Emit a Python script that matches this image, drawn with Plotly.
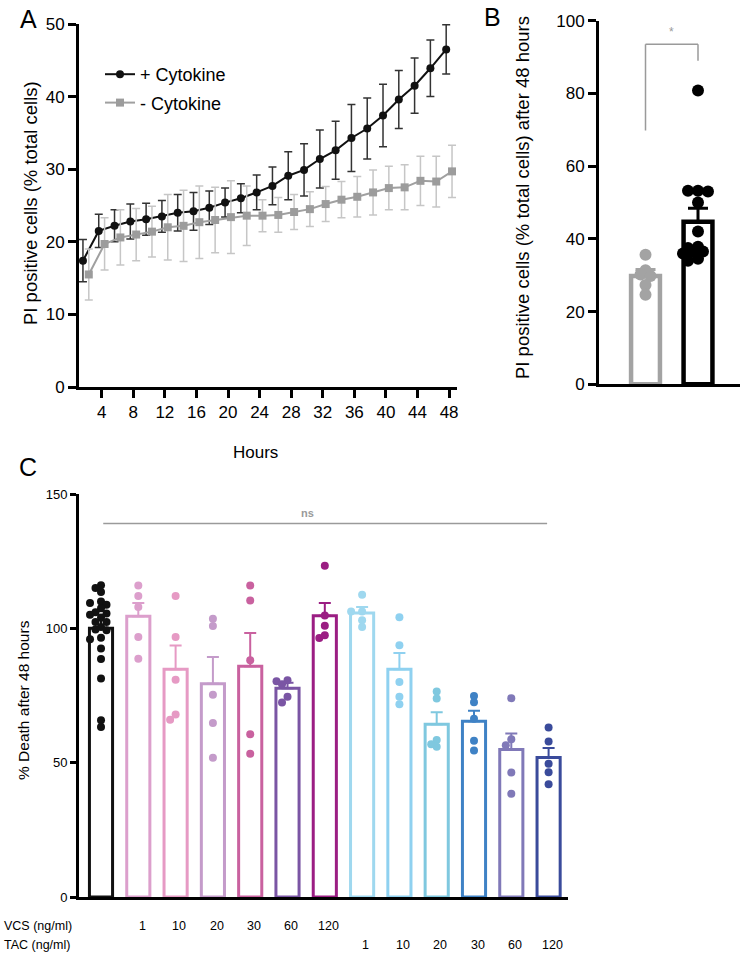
import plotly.graph_objects as go

W, H = 750, 954

# ---------------- Panel A data ----------------
hours = list(range(2, 50, 2))
plus_mean = [17.4, 21.5, 22.2, 22.8, 23.1, 23.5, 24.0, 24.2, 24.7, 25.4, 26.0, 26.8,
             27.7, 29.1, 29.9, 31.4, 32.6, 34.3, 35.6, 37.4, 39.6, 41.5, 43.9, 46.5]
plus_sem = [2.9, 2.3, 2.2, 2.4, 2.2, 2.2, 2.5, 2.6, 2.3, 2.0, 2.0, 2.4,
            2.6, 3.3, 3.6, 4.0, 4.0, 4.6, 4.2, 4.3, 4.0, 3.8, 3.9, 3.4]
minus_mean = [15.5, 19.7, 20.6, 21.0, 21.4, 22.0, 22.2, 22.7, 23.0, 23.4, 23.6, 23.6,
              23.7, 24.1, 24.5, 25.2, 25.8, 26.2, 26.8, 27.4, 27.5, 28.4, 28.3, 29.7]
minus_sem = [3.5, 3.6, 3.8, 3.6, 3.5, 4.5, 4.9, 5.0, 4.5, 5.0, 4.1, 2.2,
             2.4, 2.4, 2.4, 2.4, 2.5, 2.8, 3.1, 3.0, 3.1, 3.4, 3.5, 3.6]
a_xticks = list(range(4, 52, 4))
a_yticks = [0, 10, 20, 30, 40, 50]

# ---------------- Panel B data ----------------
b_groups = ["- Cytokine", "+ Cytokine"]
b_minus_pts = [35.6, 31.4, 30.2, 29.8, 27.3, 24.6]
b_plus_pts = [80.8, 53.2, 53.2, 53.0, 50.0, 42.0, 37.8, 37.5, 36.5, 36.5, 36.0, 34.5, 34.0]
b_mean = [29.8, 44.7]
b_sem = [1.8, 3.7]
b_yticks = [0, 20, 40, 60, 80, 100]

# ---------------- Panel C data ----------------
c_vcs_labels = ["", "1", "10", "20", "30", "60", "120", "", "", "", "", "", ""]
c_tac_labels = ["", "", "", "", "", "", "", "1", "10", "20", "30", "60", "120"]
c_mean = [100.0, 104.5, 84.8, 79.4, 85.9, 77.7, 104.7, 105.7, 84.8, 64.3, 65.4, 54.9, 51.9]
c_sem = [3.0, 4.9, 8.8, 9.9, 12.4, 2.0, 4.7, 2.2, 6.0, 4.5, 3.9, 6.0, 3.6]
c_points = [
    [116, 115, 113.5, 110, 109.4, 108.8, 107.5, 106, 105.5, 105.1, 104, 102.4, 102.4,
     100.5, 99.6, 99.3, 96.5, 95.9, 92.5, 88.6, 81.3, 65.8, 63.3],
    [115.9, 112.0, 107.9, 96.8, 88.7],
    [112.0, 96.8, 80.9, 66.0, 67.9],
    [103.6, 100.9, 75.3, 64.8, 51.8],
    [115.9, 110.4, 88.1, 60.6, 53.3],
    [80.3, 80.7, 79.2, 72.4, 74.5],
    [123.3, 104.8, 101.0, 96.4, 97.4],
    [112.5, 106.3, 106.3, 103.0, 100.5],
    [104.1, 93.7, 80.0, 71.7, 74.5],
    [76.5, 73.9, 58.4, 55.9, 56.9],
    [72.5, 74.8, 66.3, 58.2, 54.5],
    [74.0, 58.7, 56.5, 46.3, 38.4],
    [63.1, 57.9, 49.6, 46.4, 42.0],
]
c_yticks = [0, 50, 100, 150]

# ---------------- styles ----------------
c_colors = ["#111111", "#dc9fcc", "#e69ac4", "#c49bca", "#c9619f", "#7a55a4", "#9b1e83",
            "#9fd8ef", "#8fd1f0", "#7fc8df", "#3f82c5", "#8079b8", "#3a4b9b"]
FONT = "Arial, Liberation Sans, Helvetica, sans-serif"
GRAY = "#a3a3a3"

# pixel layout helpers
def px(x):
    return x / W

def py(y):
    return 1 - y / H

A_X = (79, 457); A_Y = (387, 24)
B_X = (599, 740); B_Y = (384.3, 20.7)
C_X = (79, 568); C_Y = (897, 494)

A_XR = [1.13, 49.0]
B_XR = [-0.886, 1.8]
C_XR = [-0.59, 12.52]


def swarm(vals, ppu_y, ppu_x, dia, step):
    placed = []
    res = [0.0] * len(vals)
    order = sorted(range(len(vals)), key=lambda i: -vals[i])
    cands = [0.0]
    for k in range(1, 12):
        cands += [-k * step, k * step]
    for i in order:
        y = vals[i] * ppu_y
        chosen = cands[-1]
        for c in cands:
            if all((c - qx) ** 2 + (y - qy) ** 2 >= dia ** 2 for qx, qy in placed):
                chosen = c
                break
        placed.append((chosen, y))
        res[i] = chosen / ppu_x
    return res


fig = go.Figure()

# ---------------- Panel A traces ----------------
dodge = 0.37
fig.add_trace(go.Scatter(
    x=[h - dodge for h in hours], y=plus_mean, name="+ Cytokine", legendgroup="p",
    mode="lines+markers", line=dict(color="#111111", width=2),
    marker=dict(symbol="circle", size=8, color="#111111"),
    error_y=dict(type="data", array=plus_sem, color="#333333", thickness=1.5, width=4),
    xaxis="x", yaxis="y", cliponaxis=False))
fig.add_trace(go.Scatter(
    x=[h + dodge for h in hours], y=minus_mean, name="- Cytokine", legendgroup="m",
    mode="lines+markers", line=dict(color="#a0a0a0", width=2),
    marker=dict(symbol="square", size=8, color="#9c9c9c"),
    error_y=dict(type="data", array=minus_sem, color="#c6c6c6", thickness=1.5, width=4),
    xaxis="x", yaxis="y", cliponaxis=False))

# ---------------- Panel B traces ----------------
b_ppu_y = (B_Y[0] - B_Y[1]) / 100.0
b_ppu_x = (B_X[1] - B_X[0]) / (B_XR[1] - B_XR[0])
b_cols = [GRAY, "#000000"]
for i, (m, s, col) in enumerate(zip(b_mean, b_sem, b_cols)):
    fig.add_trace(go.Bar(
        x=[i], y=[m], width=0.55, marker=dict(color="white", line=dict(color=col, width=4.5)),
        error_y=dict(type="data", symmetric=False, array=[s], arrayminus=[0], color=col,
                     thickness=3, width=10),
        xaxis="x2", yaxis="y2", showlegend=False, hoverinfo="skip"))
for i, (pts, col) in enumerate(zip([b_minus_pts, b_plus_pts], b_cols)):
    offs = swarm(pts, b_ppu_y, b_ppu_x, 6, 5)
    fig.add_trace(go.Scatter(
        x=[i + o for o in offs], y=pts, mode="markers",
        marker=dict(size=12, color=col), xaxis="x2", yaxis="y2",
        showlegend=False, hoverinfo="skip", cliponaxis=False))

# ---------------- Panel C traces ----------------
c_ppu_y = (C_Y[0] - C_Y[1]) / 150.0
c_ppu_x = (C_X[1] - C_X[0]) / (C_XR[1] - C_XR[0])
for i, (m, s, col) in enumerate(zip(c_mean, c_sem, c_colors)):
    fig.add_trace(go.Bar(
        x=[i], y=[m], width=0.62, marker=dict(color="white", line=dict(color=col, width=3)),
        error_y=dict(type="data", symmetric=False, array=[s], arrayminus=[0], color=col,
                     thickness=2, width=6),
        xaxis="x3", yaxis="y3", showlegend=False, hoverinfo="skip"))
for i, (pts, col) in enumerate(zip(c_points, c_colors)):
    offs = swarm(pts, c_ppu_y, c_ppu_x, 6, 5.5)
    fig.add_trace(go.Scatter(
        x=[i + o for o in offs], y=pts, mode="markers",
        marker=dict(size=8, color=col), xaxis="x3", yaxis="y3",
        showlegend=False, hoverinfo="skip", cliponaxis=False))

# ---------------- axes ----------------
axis_common = dict(showline=True, linewidth=3, linecolor="black", showgrid=False,
                   zeroline=False, ticks="outside", ticklen=8, tickwidth=3,
                   tickcolor="black", automargin=False,
                   tickfont=dict(family=FONT, size=17, color="black"))

fig.update_layout(
    xaxis=dict(axis_common, domain=[px(A_X[0]), px(A_X[1])], range=A_XR,
               tickvals=a_xticks, anchor="y"),
    yaxis=dict(axis_common, domain=[py(A_Y[0]), py(A_Y[1])], range=[0, 50],
               tickvals=a_yticks, anchor="x"),
    xaxis2=dict(axis_common, domain=[px(B_X[0]), px(B_X[1])], range=B_XR,
                showticklabels=False, ticks="", anchor="y2"),
    yaxis2=dict(axis_common, domain=[py(B_Y[0]), py(B_Y[1])], range=[0, 100],
                tickvals=b_yticks, anchor="x2"),
    xaxis3=dict(axis_common, domain=[px(C_X[0]), px(C_X[1])], range=C_XR,
                showticklabels=False, ticks="", anchor="y3"),
    yaxis3=dict(axis_common, domain=[py(C_Y[0]), py(C_Y[1])], range=[0, 150],
                tickvals=c_yticks, anchor="x3",
                tickfont=dict(family=FONT, size=13, color="black"), ticklen=6, tickwidth=2.5),
)

# ---------------- shapes ----------------
shapes = []
bracket = [(0, 69.8, 0, 93.5), (0, 93.5, 1, 93.5), (1, 93.5, 1, 89.0)]
for x0, y0, x1, y1 in bracket:
    shapes.append(dict(type="line", xref="x2", yref="y2", x0=x0, y0=y0, x1=x1, y1=y1,
                       line=dict(color="#9a9a9a", width=1.5)))
shapes.append(dict(type="line", xref="x3", yref="y3", x0=0.06, x1=11.96, y0=139, y1=139,
                   line=dict(color="#9a9a9a", width=1.5)))

# ---------------- annotations ----------------
ann = []

def text(x, y, t, size, angle=0, color="black", xanchor="center", weight="normal"):
    ann.append(dict(x=px(x), y=py(y), xref="paper", yref="paper", text=t, showarrow=False,
                    textangle=angle, xanchor=xanchor, yanchor="middle",
                    font=dict(family=FONT, size=size, color=color, weight=weight)))

text(28, 19, "A", 25)
text(492, 17, "B", 25)
text(28, 467, "C", 25)
text(30, 203, "PI positive cells (% total cells)", 18.5, angle=-90)
text(255, 452, "Hours", 17)
text(523, 198, "PI positive cells (% total cells) after 48 hours", 18.5, angle=-90)
text(23, 700, "% Death after 48 hours", 15.5, angle=-90)
text(2, 926, "VCS (ng/ml)", 12.5, xanchor="left")
text(2, 945, "TAC (ng/ml)", 12.5, xanchor="left")

ann.append(dict(x=0.5, y=96.8, xref="x2", yref="y2", text="*", showarrow=False,
                font=dict(family=FONT, size=12, color="#9a9a9a")))
ann.append(dict(x=5.54, y=143.0, xref="x3", yref="y3", text="ns", showarrow=False,
                font=dict(family=FONT, size=11, color="#9a9a9a", weight="bold")))

for i, (lv, lt) in enumerate(zip(c_vcs_labels, c_tac_labels)):
    if lv:
        ann.append(dict(x=i + 0.1, y=py(926), xref="x3", yref="paper", text=lv, showarrow=False,
                        yanchor="middle", font=dict(family=FONT, size=12.5, color="black")))
    if lt:
        ann.append(dict(x=i + 0.1, y=py(945), xref="x3", yref="paper", text=lt, showarrow=False,
                        yanchor="middle", font=dict(family=FONT, size=12.5, color="black")))

fig.update_layout(
    width=W, height=H, autosize=False,
    margin=dict(l=0, r=0, t=0, b=0, pad=0, autoexpand=False),
    paper_bgcolor="white", plot_bgcolor="white",
    barmode="overlay",
    shapes=shapes, annotations=ann,
    showlegend=True,
    legend=dict(x=px(100), y=py(56), xanchor="left", yanchor="top",
                bgcolor="rgba(0,0,0,0)", font=dict(family=FONT, size=18, color="black"),
                tracegroupgap=2, itemclick=False, itemdoubleclick=False),
    hovermode=False,
)

fig.write_html("out.html", config={"displayModeBar": False},
               post_script="document.body.style.margin='0px';document.body.style.padding='0px';")
